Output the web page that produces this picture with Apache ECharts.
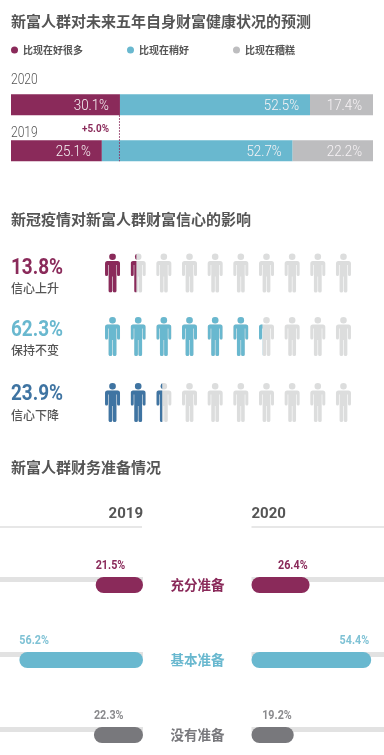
<!DOCTYPE html>
<html><head><meta charset="utf-8">
<style>html,body{margin:0;padding:0;background:#fff}#c{width:384px;height:755px}</style>
<script src="https://cdn.jsdelivr.net/npm/echarts@6/dist/echarts.min.js"></script>
</head><body><div id="c"></div>
<script>
// ---- data ----
const forecastYears = ['2020', '2019'];
const forecastNames = ['比现在好很多', '比现在稍好', '比现在糟糕'];
const muchBetter = [30.1, 25.1];
const slightlyBetter = [52.5, 52.7];
const worse = [17.4, 22.2];
const changeLabel = '+5.0%';

const confidenceNames = ['信心上升', '保持不变', '信心下降'];
const confidenceValues = [13.8, 62.3, 23.9];

const readinessNames = ['充分准备', '基本准备', '没有准备'];
const readiness2019 = [21.5, 56.2, 22.3];
const readiness2020 = [26.4, 54.4, 19.2];

const titles = ['新富人群对未来五年自身财富健康状况的预测', '新冠疫情对新富人群财富信心的影响', '新富人群财务准备情况'];

// ---- style ----
const PURPLE = '#8a2a5a', TEAL = '#69b8cf', GREY = '#bdbdbf', BLUE = '#3f74a2', DGREY = '#78787c', TEXT = '#555555', PALE = '#dcdddd';
const LATIN = 'Roboto,sans-serif';
const SQUEEZE = 0.86;
const CJK = '"Noto Sans CJK SC",sans-serif';
const personPath = 'M4.2 3.3A3.3 3.3 0 1 1 10.8 3.3A3.3 3.3 0 1 1 4.2 3.3Z M2.5 7.4H12.5Q15 7.4 15 10V21Q15 22.6 13.5 22.6Q12 22.6 12 21V11.5H11.4V37.5Q11.4 39 9.6 39Q7.8 39 7.8 37.5V23H7.2V37.5Q7.2 39 5.4 39Q3.6 39 3.6 37.5V11.5H3V21Q3 22.6 1.5 22.6Q0 22.6 0 21V10Q0 7.4 2.5 7.4Z';
const rowColors = [PURPLE, TEAL, BLUE];
const rowTops = [253.5, 317, 383];
const pctY = [268, 330, 394.7];
const subY = [288.5, 350.5, 415.5];
const readyColors = [PURPLE, TEAL, DGREY];
const readyTextColors = [PURPLE, '#7fc2d5', '#8a8a8d'];

function fmt(v) { return v.toFixed(1) + '%'; }

const chart = echarts.init(document.getElementById('c'));
const G = { outerBoundsMode: 'none', containLabel: false };

// grids: 0 forecast, 1-3 people rows, 4 left readiness, 5 right readiness
const grid = [{ left: 11, top: 81.75, width: 362, height: 92, ...G }];
const xAxis = [{ gridIndex: 0, type: 'value', min: 0, max: 100, show: false }];
const yAxis = [{ gridIndex: 0, type: 'category', data: forecastYears, inverse: true, show: false }];
rowTops.forEach((t, i) => {
  grid.push({ left: 99.7, top: t, width: 256.6, height: 39, ...G });
  xAxis.push({ gridIndex: i + 1, type: 'value', min: 0, max: 10, show: false });
  yAxis.push({ gridIndex: i + 1, type: 'value', min: 0, max: 1, show: false });
});
grid.push({ left: -77, top: 547.5, width: 220, height: 225, ...G });
grid.push({ left: 251.5, top: 547.5, width: 220, height: 225, ...G });
xAxis.push({ gridIndex: 4, type: 'value', min: 0, max: 100, inverse: true, show: false });
xAxis.push({ gridIndex: 5, type: 'value', min: 0, max: 100, show: false });
yAxis.push({ gridIndex: 4, type: 'category', data: readinessNames, inverse: true, show: false });
yAxis.push({
  gridIndex: 5, type: 'category', inverse: true, position: 'left',
  data: readinessNames.map((n, i) => ({ value: n, textStyle: { color: readyColors[i] } })),
  axisLine: { show: false }, axisTick: { show: false },
  axisLabel: { margin: 27, fontFamily: CJK, fontSize: 13.5, fontWeight: 'bold', padding: [0, 0, 2, 0] }
});

const stack = (name, data, color) => ({
  name, type: 'bar', stack: 'f', xAxisIndex: 0, yAxisIndex: 0, barWidth: 21, data, itemStyle: { color }
});

// condensed value labels placed through the axes: [x value, row, shown value]
function valueLabels(rows, axisIdx, dx, dy, font, colors, align) {
  return {
    type: 'custom', xAxisIndex: axisIdx, yAxisIndex: axisIdx, z: 6, silent: true, data: rows,
    encode: { x: 0, y: 1 },
    renderItem(params, api) {
      const c = api.coord([api.value(0), api.value(1)]);
      return {
        type: 'text', x: c[0] + dx, y: c[1] + dy, scaleX: SQUEEZE,
        style: { text: fmt(api.value(2)), font, fill: colors[params.dataIndex], align, verticalAlign: 'middle' }
      };
    }
  };
}

const series = [
  stack(forecastNames[0], muchBetter, PURPLE),
  stack(forecastNames[1], slightlyBetter, TEAL),
  stack(forecastNames[2], worse, GREY),
  {
    type: 'custom', xAxisIndex: 0, yAxisIndex: 0, z: 5, silent: true, data: [[muchBetter[0], 0, 1]],
    encode: { x: 0, y: 1 },
    renderItem(params, api) {
      const a = api.coord([api.value(0), api.value(1)]);
      const b = api.coord([api.value(0), api.value(2)]);
      return { type: 'group', children: [
        { type: 'line', shape: { x1: a[0] - 0.5, y1: a[1] + 10.5, x2: b[0] - 0.5, y2: b[1] + 10.5 }, style: { stroke: PURPLE, lineWidth: 1, lineDash: [1.5, 1.5] } },
        { type: 'text', x: a[0] - 11, y: a[1] + 24, scaleX: SQUEEZE, style: { text: changeLabel, fill: PURPLE, font: 'bold 11.5px ' + LATIN, align: 'right', verticalAlign: 'middle' } }
      ] };
    }
  }
];
const white = ['#f7f3f5', '#f7f3f5'];
const topFont = '300 15.5px ' + LATIN;
series.push(valueLabels(muchBetter.map((v, i) => [v, i, v]), 0, -11, 1, topFont, white, 'right'));
series.push(valueLabels(slightlyBetter.map((v, i) => [muchBetter[i] + v, i, v]), 0, -11, 1, topFont, white, 'right'));
series.push(valueLabels(worse.map((v, i) => [muchBetter[i] + slightlyBetter[i] + v, i, v]), 0, -11, 1, topFont, white, 'right'));

confidenceValues.forEach((v, r) => {
  const color = rowColors[r];
  const persons = [0, 1, 2, 3, 4, 5, 6, 7, 8, 9].map(i => [i, Math.max(0, Math.min(1, v / 10 - i))]);
  series.push({
    type: 'custom', xAxisIndex: r + 1, yAxisIndex: r + 1, silent: true, data: persons,
    encode: { x: 0 },
    renderItem(params, api) {
      const i = api.value(0), f = api.value(1);
      const c = api.coord([i + 0.5, 1]);
      const w = 15, h = 39, x = c[0] - w / 2, y = c[1];
      const shape = { pathData: personPath, x, y, width: w, height: h, layout: 'cover' };
      const children = [{ type: 'path', shape, style: { fill: PALE } }];
      if (f > 0) children.push({
        type: 'path', shape, style: { fill: color },
        clipPath: { type: 'rect', shape: { x, y, width: w * f, height: h } }
      });
      return { type: 'group', children };
    }
  });
});

function readySeries(values, idx) {
  return [{
    type: 'bar', xAxisIndex: idx, yAxisIndex: idx, barWidth: 5, barGap: '-100%', silent: true,
    data: readinessNames.map(() => 100), itemStyle: { color: '#e2e2e2' }, z: 1
  }, {
    type: 'bar', xAxisIndex: idx, yAxisIndex: idx, barWidth: 16, barGap: '-100%', z: 2,
    data: values.map((v, i) => ({ value: v, itemStyle: { color: readyColors[i], borderRadius: 8 } }))
  }];
}
series.push(...readySeries(readiness2019, 4));
series.push(...readySeries(readiness2020, 5));
const smallFont = 'bold 12.5px ' + LATIN;
series.push(valueLabels(readiness2019.map((v, i) => [v, i, v]), 4, 0, -19.5, smallFont, readyTextColors, 'left'));
series.push(valueLabels(readiness2020.map((v, i) => [v, i, v]), 5, -2, -19.5, smallFont, readyTextColors, 'right'));

const graphic = [];
const txt = (text, x, y, font, fill, align, sx) => graphic.push({ type: 'text', x, y, scaleX: sx || 1, silent: true, style: { text, font, fill, align: align || 'left', verticalAlign: 'middle' } });
txt(titles[0], 11, 21, 'bold 15px ' + CJK, TEXT);
txt(titles[1], 11, 219, 'bold 15px ' + CJK, TEXT);
txt(titles[2], 11, 467.5, 'bold 15px ' + CJK, TEXT);
txt(forecastYears[0], 11, 80.5, '300 14px ' + LATIN, TEXT, 'left', SQUEEZE);
txt(forecastYears[1], 11, 133, '300 14px ' + LATIN, TEXT, 'left', SQUEEZE);
confidenceValues.forEach((v, i) => {
  txt(fmt(v), 11, pctY[i], 'bold 22px ' + LATIN, rowColors[i], 'left', SQUEEZE);
  txt(confidenceNames[i], 11, subY[i], '500 12px ' + CJK, TEXT);
});
txt('2019', 143, 514, 'bold 15px Roboto', TEXT, 'right');
txt('2020', 251.5, 514, 'bold 15px Roboto', TEXT);
graphic.push({ type: 'line', silent: true, shape: { x1: 0, y1: 527, x2: 142, y2: 527 }, style: { stroke: '#cfcfcf', lineWidth: 1 } });
graphic.push({ type: 'line', silent: true, shape: { x1: 251.5, y1: 527, x2: 384, y2: 527 }, style: { stroke: '#cfcfcf', lineWidth: 1 } });

chart.setOption({
  animation: false,
  backgroundColor: '#fff',
  legend: {
    left: 11, top: 45, padding: 0, itemWidth: 7, itemHeight: 7, itemGap: 44, icon: 'circle',
    data: forecastNames, selectedMode: false,
    textStyle: { fontFamily: CJK, fontSize: 10, fontWeight: 'bold', color: TEXT }
  },
  grid, xAxis, yAxis, series, graphic
});
</script></body></html>
